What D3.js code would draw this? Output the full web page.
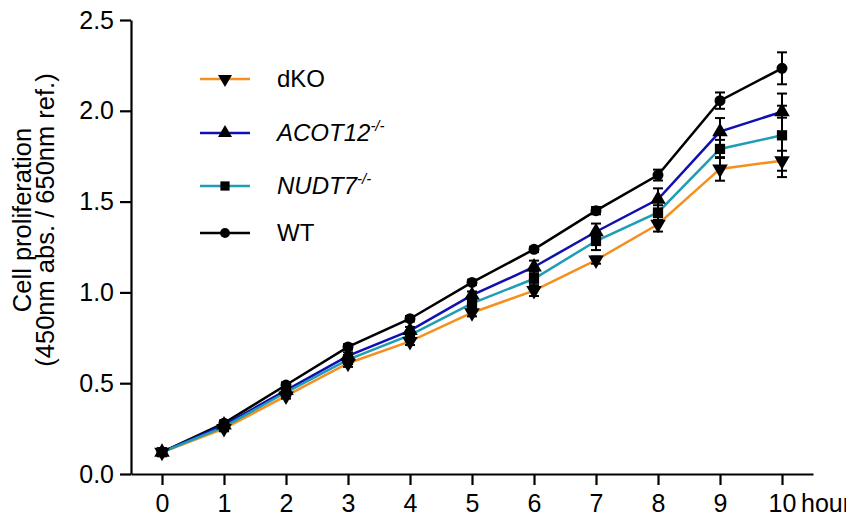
<!DOCTYPE html>
<html>
<head>
<meta charset="utf-8">
<script src="https://cdn.jsdelivr.net/npm/d3@7"></script>
<style>
  body { margin: 0; background: #fff; }
  text { font-family: "Liberation Sans", Arial, sans-serif; fill: #000; }
</style>
</head>
<body>
<div id="chart"></div>
<script>
// hours and tick values
var hours = [0, 1, 2, 3, 4, 5, 6, 7, 8, 9, 10];
var yTicks = [0, 0.5, 1.0, 1.5, 2.0, 2.5];

// mean values
var dKO    = [0.12, 0.25, 0.43, 0.61, 0.73, 0.888, 1.01, 1.178, 1.375, 1.68, 1.725];
var ACOT12 = [0.12, 0.27, 0.46, 0.65, 0.79, 0.985, 1.14, 1.334, 1.513, 1.885, 1.995];
var NUDT7  = [0.12, 0.26, 0.45, 0.63, 0.765, 0.94, 1.075, 1.283, 1.44, 1.79, 1.865];
var WT     = [0.12, 0.28, 0.49, 0.70, 0.855, 1.055, 1.237, 1.45, 1.646, 2.056, 2.234];

// error bars (+/-)
var dKOerr    = [0.01, 0.015, 0.015, 0.02, 0.02, 0.02, 0.03, 0.02, 0.04, 0.065, 0.055];
var ACOT12err = [0.01, 0.015, 0.02, 0.02, 0.02, 0.02, 0.035, 0.045, 0.06, 0.075, 0.033];
var NUDT7err  = [0.01, 0.015, 0.02, 0.025, 0.025, 0.03, 0.04, 0.05, 0.04, 0.05, 0.23];
var WTerr     = [0.01, 0.015, 0.015, 0.015, 0.015, 0.015, 0.015, 0.02, 0.03, 0.045, 0.088];

var series = [
  { name: "dKO", sup: "", italic: false, values: dKO, err: dKOerr, color: "#f5901f", shape: "down" },
  { name: "ACOT12", sup: "-/-", italic: true, values: ACOT12, err: ACOT12err, color: "#1010b0", shape: "up" },
  { name: "NUDT7", sup: "-/-", italic: true, values: NUDT7, err: NUDT7err, color: "#1f9db5", shape: "square" },
  { name: "WT", sup: "", italic: false, values: WT, err: WTerr, color: "#000000", shape: "circle" }
];

var W = 846, H = 521;
var svg = d3.select("#chart").append("svg")
    .attr("width", W)
    .attr("height", H);

// scales
var x = d3.scaleLinear().domain([-0.5, 10.5]).range([131, 813]);
var y = d3.scaleLinear().domain([0, 2.5]).range([474, 20]);

// symbols
function symbolPath(shape, size) {
  if (shape == "circle") return d3.symbol().type(d3.symbolCircle).size(size * 0.9)();
  if (shape == "square") return d3.symbol().type(d3.symbolSquare).size(size)();
  return d3.symbol().type(d3.symbolTriangle).size(size)();
}
function symbolTransform(shape, px, py) {
  var t = "translate(" + px + "," + py + ")";
  if (shape == "down") t += " rotate(180)";
  return t;
}

// axes
var yAxis = svg.append("g")
    .attr("transform", "translate(" + x.range()[0] + ",0)")
    .call(d3.axisLeft(y).tickValues(yTicks).tickFormat(d3.format(".1f")).tickSize(11).tickPadding(6).tickSizeOuter(0));
var xAxis = svg.append("g")
    .attr("transform", "translate(0," + y(0) + ")")
    .call(d3.axisBottom(x).tickValues(hours).tickFormat(d3.format("d")).tickSize(11).tickPadding(9).tickSizeOuter(0));

[xAxis, yAxis].forEach(function(a) {
  a.select(".domain").attr("stroke", "#000").attr("stroke-width", 2.2);
  a.selectAll(".tick line").attr("stroke", "#000").attr("stroke-width", 2.2);
  a.selectAll(".tick text").attr("font-size", "25px").attr("font-family", "Liberation Sans, Arial, sans-serif").attr("fill", "#000");
});

// "hour" after last tick (runs off the right edge, as in the original)
svg.append("text")
    .attr("x", x(10) + 19)
    .attr("y", y(0) + 20)
    .attr("dy", "0.71em")
    .attr("font-size", "25px")
    .text("hour");

// y label, two lines
var yl = svg.append("text")
    .attr("transform", "translate(31,220) rotate(-90)")
    .attr("text-anchor", "middle")
    .attr("font-size", "25.5px");
yl.append("tspan").attr("x", 0).attr("y", 0).text("Cell proliferation");
yl.append("tspan").attr("x", 0).attr("y", 23).text("(450nm abs. / 650nm ref.)");

// lines
var line = d3.line()
    .x(function(d, i) { return x(hours[i]); })
    .y(function(d) { return y(d); });

var drawOrder = [3, 0, 1, 2];
drawOrder.forEach(function(k) {
  var s = series[k];
  svg.append("path")
      .datum(s.values)
      .attr("fill", "none")
      .attr("stroke", s.color)
      .attr("stroke-width", 2.5)
      .attr("d", line);
});

// error bars
var cap = 5;
drawOrder.forEach(function(k) {
  var s = series[k];
  var g = svg.append("g").attr("stroke", "#000").attr("stroke-width", 2);
  s.values.forEach(function(v, i) {
    var cx = x(hours[i]);
    var top = y(v + s.err[i]), bot = y(v - s.err[i]);
    g.append("line").attr("x1", cx).attr("x2", cx).attr("y1", top).attr("y2", bot);
    g.append("line").attr("x1", cx - cap).attr("x2", cx + cap).attr("y1", top).attr("y2", top);
    g.append("line").attr("x1", cx - cap).attr("x2", cx + cap).attr("y1", bot).attr("y2", bot);
  });
});

// markers
drawOrder.forEach(function(k) {
  var s = series[k];
  svg.append("g").selectAll("path")
      .data(s.values)
      .enter()
      .append("path")
      .attr("d", symbolPath(s.shape, 105))
      .attr("transform", function(d, i) { return symbolTransform(s.shape, x(hours[i]), y(d)); })
      .attr("fill", "#000");
});

// legend
var legY = [79, 133, 186, 233];
series.forEach(function(s, i) {
  var g = svg.append("g").attr("transform", "translate(200," + legY[i] + ")");
  g.append("line").attr("x1", 0).attr("x2", 50).attr("y1", 0).attr("y2", 0)
      .attr("stroke", s.color).attr("stroke-width", 2.5);
  g.append("path")
      .attr("d", symbolPath(s.shape, 85))
      .attr("transform", symbolTransform(s.shape, 25, 0))
      .attr("fill", "#000");
  var t = g.append("text")
      .attr("x", 77)
      .attr("y", 8)
      .attr("font-size", "24px");
  t.append("tspan").attr("font-style", s.italic ? "italic" : "normal").text(s.name);
  if (s.sup) {
    t.append("tspan").attr("font-size", "15px").attr("dy", -10).attr("font-style", "italic").text(s.sup);
  }
});
</script>
</body>
</html>
